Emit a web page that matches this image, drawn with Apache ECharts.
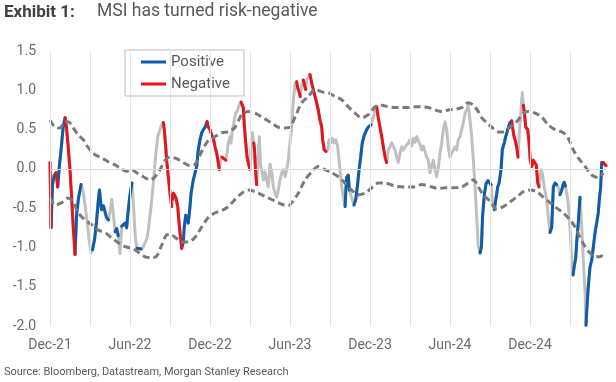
<!DOCTYPE html>
<html><head><meta charset="utf-8">
<script src="https://cdn.jsdelivr.net/npm/echarts@6/dist/echarts.min.js"></script>
<style>html,body{margin:0;padding:0;background:#fff}#c{width:616px;height:382px}</style>
</head><body><div id="c"></div>
<script>
// x in months since Dec-21
const msiMonths = [
0.00,0.08,0.19,0.30,0.45,0.58,0.71,0.83,0.98,1.13,
1.24,1.35,1.50,1.61,1.73,1.88,1.99,2.14,2.33,2.48,
2.63,2.78,2.93,3.08,3.19,3.34,3.49,3.64,3.71,3.86,
4.01,4.24,4.39,4.50,4.63,4.75,4.88,5.00,5.12,5.25,
5.38,5.51,5.63,5.75,5.87,6.00,6.15,6.26,6.41,6.53,
6.68,6.83,7.00,7.13,7.28,7.39,7.58,7.75,7.88,8.08,
8.25,8.38,8.50,8.57,8.68,8.75,8.87,9.00,9.13,9.19,
9.26,9.43,9.58,9.68,9.75,9.88,10.00,10.07,10.18,10.28,
10.37,10.50,10.58,10.75,10.88,11.00,11.12,11.25,11.38,11.50,
11.63,11.78,11.87,12.00,12.13,12.25,12.38,12.50,12.62,12.70,
12.79,12.90,13.01,13.18,13.28,13.37,13.50,13.58,13.67,13.82,
13.93,14.08,14.18,14.33,14.50,14.57,14.68,14.78,14.87,15.00,
15.08,15.17,15.28,15.34,15.41,15.50,15.64,15.70,15.79,15.90,
16.01,16.13,16.25,16.37,16.50,16.63,16.75,16.88,17.00,17.12,
17.25,17.38,17.50,17.63,17.75,17.87,18.00,18.13,18.25,18.38,
18.50,18.58,18.70,18.77,18.88,19.00,19.07,19.18,19.25,19.39,
19.50,19.63,19.75,19.88,20.00,20.12,20.25,20.38,20.45,20.57,
20.70,20.83,20.93,21.05,21.17,21.30,21.43,21.55,21.68,21.75,
21.88,22.00,22.13,22.24,22.37,22.46,22.61,22.80,22.93,23.08,
23.18,23.30,23.42,23.57,23.75,23.87,24.08,24.25,24.38,24.50,
24.62,24.75,24.88,25.00,25.13,25.25,25.37,25.50,25.63,25.75,
25.88,26.00,26.12,26.25,26.38,26.50,26.63,26.75,26.87,27.00,
27.13,27.25,27.38,27.50,27.62,27.75,27.88,28.00,28.13,28.25,
28.37,28.50,28.63,28.75,28.88,29.00,29.12,29.25,29.38,29.50,
29.63,29.75,29.87,30.00,30.13,30.25,30.38,30.50,30.62,30.75,
30.88,31.00,31.13,31.25,31.37,31.50,31.63,31.75,31.88,32.00,
32.12,32.25,32.36,32.44,32.51,32.59,32.70,32.85,33.00,33.08,
33.17,33.32,33.43,33.58,33.68,33.83,33.92,34.07,34.18,34.33,
34.50,34.63,34.69,34.78,34.88,35.00,35.10,35.23,35.33,35.42,
35.50,35.57,35.68,35.83,35.93,36.02,36.13,36.25,36.38,36.47,
36.58,36.68,36.83,36.92,37.07,37.25,37.37,37.50,37.63,37.75,
37.88,38.00,38.12,38.25,38.38,38.48,38.57,38.66,38.83,38.93,
39.02,39.13,39.23,39.30,39.43,39.50,39.62,39.75,39.88,40.00,
40.13,40.20,40.26,40.37,40.50,40.63,40.75,40.88,41.00,41.12,
41.20,41.30,41.38,41.50,41.59,41.70
];
const msiValues = [
0.08,-0.75,-0.20,-0.09,-0.05,-0.23,0.05,0.24,0.52,0.65,
0.52,0.31,-0.01,-0.33,-0.71,-1.09,-0.59,-0.37,-0.20,-0.29,
-0.46,-0.67,-0.90,-1.07,-1.03,-0.90,-0.67,-0.37,-0.27,-0.52,
-0.47,-0.62,-0.65,-0.55,-0.39,-0.57,-0.80,-0.76,-0.85,-1.08,
-0.73,-0.74,-0.69,-0.75,-0.52,-0.33,-0.18,-0.46,-0.90,-1.01,
-0.99,-1.02,-0.99,-0.97,-0.88,-0.75,-0.48,-0.18,0.09,0.41,
0.50,0.56,0.59,0.50,0.28,0.11,-0.10,-0.31,-0.48,-0.39,
-0.31,-0.36,-0.48,-0.69,-0.81,-1.01,-0.93,-0.74,-0.59,-0.62,
-0.69,-0.48,-0.31,-0.14,-0.05,0.03,0.24,0.37,0.46,0.50,
0.53,0.60,0.53,0.50,0.43,0.39,0.28,0.20,0.08,-0.01,
0.11,0.15,0.14,0.11,0.20,0.33,0.41,0.33,0.47,0.62,
0.71,0.75,0.81,0.85,0.78,0.56,0.33,0.15,0.08,-0.01,
0.28,0.46,0.33,0.24,-0.01,-0.20,0.24,0.41,0.05,-0.04,
-0.14,-0.04,-0.14,-0.23,0.06,-0.04,-0.23,-0.31,-0.36,-0.27,
-0.14,-0.05,-0.01,-0.10,-0.01,0.11,0.33,0.53,0.88,1.08,
1.11,1.03,0.97,0.92,1.07,1.13,1.08,1.01,1.13,1.17,
1.20,1.09,1.01,0.92,0.84,0.75,0.62,0.53,0.37,0.24,
0.22,0.24,0.37,0.33,0.39,0.33,0.37,0.31,0.11,-0.01,
-0.23,-0.36,-0.48,-0.11,-0.08,-0.27,-0.36,-0.46,-0.39,-0.18,
-0.01,0.15,0.33,0.43,0.50,0.53,0.56,0.66,0.75,0.79,
0.65,0.53,0.41,0.28,0.15,0.08,0.24,0.28,0.33,0.34,
0.24,0.15,0.08,0.20,0.28,0.24,0.28,0.27,0.33,0.37,
0.29,0.39,0.34,0.41,0.36,0.31,0.24,0.29,0.27,0.15,
0.11,-0.05,0.04,0.11,-0.01,-0.10,0.01,0.20,0.33,0.50,
0.60,0.50,0.28,0.15,0.20,0.24,0.28,0.24,0.37,0.41,
0.50,0.59,0.71,0.75,0.81,0.62,0.41,0.11,-0.23,-0.61,
-0.99,-1.07,-0.99,-0.61,-0.46,-0.31,-0.19,-0.15,-0.13,-0.20,
-0.39,-0.52,-0.50,-0.23,-0.18,-0.01,0.24,0.33,0.41,0.50,
0.59,0.61,0.53,0.43,0.37,0.28,0.15,0.53,0.75,0.97,
0.81,0.73,0.53,0.50,0.33,0.11,0.03,0.11,0.11,0.05,
-0.18,-0.23,-0.01,-0.05,-0.23,-0.39,-0.61,-0.81,-0.74,-0.23,
-0.18,-0.20,-0.23,-0.33,-0.27,-0.20,-0.17,-0.22,-0.39,-0.56,
-0.81,-1.16,-1.35,-1.26,-1.13,-0.94,-0.69,-0.36,-0.74,-1.16,
-1.58,-1.99,-1.79,-1.50,-1.25,-1.16,-0.99,-0.81,-0.69,-0.56,
-0.39,-0.23,0.08,0.08,0.06,0.04
];
// regime of the segment ending at each point: P = positive, N = negative, G = neither
const msiRegime = (
'NNPPPNPPPP'+'NNNNNNPPPG'+'GGGGGPPPPP'+'PPPGGGGPPG'+'GPPPPPPGGG'+
'PPGGGGGGGG'+'GGGNNNNNNG'+'NNNNNNPPPP'+'PPPPPPPPPP'+'PPNNNNNNNN'+
'GGNNGGGGGG'+'GGGGNNNNNN'+'GGGNNNGGGG'+'GGGGGGGGGG'+'GGGGGGGGGG'+
'GNNNGGNNGG'+'GNNNNNNNNN'+'NGGGGGGGGG'+'GGGPPPGGPP'+'PPPPPPPGGG'+
'NNNNNNGGGG'+'GGGGGGGGGG'+'GGGGGGGGGG'+'GGGGGGGGGG'+'GGGGGGGGGG'+
'GGGGGGGGGG'+'GGPPPPPPPP'+'GGPPPPPPPP'+'PPNNNNNGGG'+'GNNNNNNNNN'+
'NNGGGGGGPP'+'PPGGPPPPGG'+'GGGPPPPPGG'+'GGPPPPPPPP'+'PPPPNN').split('');

const upperMonths = [0.00,0.38,0.75,1.13,1.37,1.75,2.12,2.50,2.87,3.38,3.88,4.37,4.88,5.25,5.75,6.13,6.50,7.00,7.50,7.88,8.25,8.63,9.00,9.50,10.00,10.50,10.88,11.38,11.87,12.38,12.88,13.37,13.88,14.38,14.87,15.38,15.88,16.37,16.75,17.12,17.63,18.00,18.38,18.88,19.37,19.88,20.38,20.87,21.38,21.88,22.37,22.88,23.38,23.87,24.38,24.88,25.37,25.88,26.38,26.87,27.38,27.88,28.37,28.88,29.38,29.87,30.38,30.88,31.37,31.75,32.12,32.38,32.75,33.13,33.62,34.00,34.50,35.00,35.50,35.87,36.38,36.88,37.37,37.88,38.50,38.87,39.25,39.62,40.13,40.63,41.12,41.50];
const upperValues = [0.62,0.53,0.52,0.60,0.60,0.52,0.43,0.37,0.27,0.18,0.14,0.09,0.05,0.01,-0.03,-0.01,-0.05,-0.10,-0.14,-0.10,-0.01,0.11,0.15,0.13,0.08,0.04,0.06,0.22,0.36,0.41,0.46,0.47,0.53,0.69,0.73,0.71,0.66,0.61,0.57,0.53,0.52,0.53,0.66,0.84,0.92,1.01,0.98,0.97,0.92,0.88,0.79,0.71,0.65,0.69,0.79,0.81,0.79,0.78,0.78,0.78,0.79,0.79,0.78,0.75,0.73,0.75,0.76,0.78,0.84,0.81,0.73,0.65,0.59,0.53,0.47,0.47,0.53,0.60,0.71,0.73,0.71,0.66,0.56,0.50,0.46,0.39,0.24,0.14,0.03,-0.08,-0.11,-0.05];
const lowerMonths = [0.00,0.38,0.88,1.37,1.75,2.12,2.63,3.13,3.62,4.13,4.63,5.12,5.63,6.13,6.62,7.13,7.63,8.00,8.38,8.70,9.00,9.38,9.88,10.37,10.88,11.38,11.87,12.38,12.88,13.37,13.88,14.38,14.87,15.38,15.88,16.37,16.88,17.38,17.87,18.13,18.62,19.13,19.63,20.12,20.63,21.13,21.62,22.13,22.63,23.12,23.63,24.13,24.62,25.13,25.88,26.63,27.38,27.88,28.63,29.12,29.63,30.13,30.88,31.37,31.75,32.12,32.50,33.00,33.50,34.00,34.50,35.00,35.50,36.00,36.50,37.00,37.50,38.00,38.50,39.00,39.38,39.75,40.13,40.50,40.88,41.25,41.57];
const lowerValues = [-0.37,-0.46,-0.43,-0.37,-0.43,-0.56,-0.65,-0.71,-0.78,-0.81,-0.88,-0.94,-0.99,-1.01,-1.06,-1.12,-1.13,-1.11,-0.97,-0.85,-0.83,-0.87,-0.93,-0.93,-0.87,-0.74,-0.62,-0.56,-0.53,-0.48,-0.39,-0.31,-0.27,-0.29,-0.33,-0.37,-0.41,-0.45,-0.47,-0.43,-0.31,-0.14,-0.04,0.03,-0.01,-0.05,-0.10,-0.18,-0.27,-0.33,-0.31,-0.24,-0.18,-0.18,-0.22,-0.23,-0.23,-0.20,-0.23,-0.25,-0.24,-0.24,-0.23,-0.18,-0.14,-0.23,-0.33,-0.41,-0.51,-0.48,-0.42,-0.36,-0.29,-0.27,-0.29,-0.36,-0.43,-0.50,-0.56,-0.65,-0.74,-0.87,-0.99,-1.07,-1.12,-1.12,-1.06];

const tickLabels = ['Dec-21','Jun-22','Dec-22','Jun-23','Dec-23','Jun-24','Dec-24'];
const gridMonths = [0,3,6,9,12,15,18,21,24,27,30,33,36,39];

const pairs = (xs, ys) => xs.map((x, i) => [x, ys[i]]);
function regimeData(code) {
  const out = [];
  for (let i = 1; i < msiMonths.length; i++) {
    if (msiRegime[i] !== code) continue;
    if (i === 1 || msiRegime[i - 1] !== code) {
      if (out.length) out.push([msiMonths[i - 1], '-']);
      out.push([msiMonths[i - 1], msiValues[i - 1]]);
    }
    out.push([msiMonths[i], msiValues[i]]);
  }
  return out;
}

const chart = echarts.init(document.getElementById('c'), null, {renderer: 'canvas'});
const FONT = 'Roboto, "Noto Sans", sans-serif';
chart.setOption({
  animation: false,
  backgroundColor: '#ffffff',
  textStyle: {fontFamily: FONT},
  grid: {left: 50, right: 10, top: 51, bottom: 56, containLabel: false},
  graphic: [
    {type: 'text', left: 4, top: 4, style: {text: 'Exhibit 1:', font: 'bold 17px ' + FONT, fill: '#404040'}},
    {type: 'text', left: 97, top: 3, style: {text: 'MSI has turned risk-negative', font: '17.5px ' + FONT, fill: '#595959'}},
    {type: 'text', left: 4, top: 367, style: {text: 'Source: Bloomberg, Datastream, Morgan Stanley Research', font: '11px ' + FONT, fill: '#595959'}}
  ],
  legend: {
    data: ['Positive', 'Negative'],
    orient: 'vertical',
    left: 125, top: 50,
    padding: [3, 14, 3, 16],
    itemGap: 4,
    itemWidth: 25, itemHeight: 3,
    icon: 'rect',
    borderColor: '#bfbfbf', borderWidth: 1,
    textStyle: {fontSize: 15, color: '#595959', lineHeight: 18, fontFamily: FONT}
  },
  xAxis: {
    type: 'value', min: 0, max: 41.7, interval: 3,
    axisLine: {show: false}, axisTick: {show: false}, splitLine: {show: false},
    axisLabel: {
      color: '#6b6b6b', fontSize: 14, margin: 12, showMaxLabel: false,
      formatter: v => (v % 6 === 0 && tickLabels[v / 6]) ? tickLabels[v / 6] : ''
    }
  },
  yAxis: {
    type: 'value', min: -2, max: 1.5, interval: 0.5,
    axisLine: {show: false}, axisTick: {show: false}, splitLine: {show: false},
    axisLabel: {color: '#6b6b6b', fontSize: 14, margin: 14, formatter: v => v.toFixed(1)}
  },
  series: [
    {
      name: 'grid', type: 'line', data: [[0, 0]], symbol: 'none', silent: true, z: 1,
      lineStyle: {opacity: 0},
      markLine: {
        silent: true, symbol: ['none', 'none'], label: {show: false}, animation: false,
        lineStyle: {color: '#e6e6e6', width: 1, type: 'solid'},
        data: gridMonths.map(m => ({xAxis: m})).concat([{yAxis: 0, lineStyle: {color: '#d9d9d9', width: 1, type: 'solid'}}])
      }
    },
    {
      name: 'MSI', type: 'line', data: pairs(msiMonths, msiValues), symbol: 'none', z: 2,
      lineStyle: {color: '#c0c0c0', width: 3, join: 'round', cap: 'round'}, itemStyle: {color: '#c0c0c0'}
    },
    {
      name: 'Positive', type: 'line', data: regimeData('P'), symbol: 'none', z: 3, connectNulls: false,
      color: '#0f5ca8',
      lineStyle: {color: '#0f5ca8', width: 3, join: 'round', cap: 'round'}, itemStyle: {color: '#0f5ca8'}
    },
    {
      name: 'Negative', type: 'line', data: regimeData('N'), symbol: 'none', z: 3, connectNulls: false,
      color: '#e8141c',
      lineStyle: {color: '#e8141c', width: 3, join: 'round', cap: 'round'}, itemStyle: {color: '#e8141c'}
    },
    {
      name: 'Upper', type: 'line', data: pairs(upperMonths, upperValues), symbol: 'none', z: 4, smooth: 0.3,
      lineStyle: {color: '#7a7a7a', width: 3, type: [7, 4]}
    },
    {
      name: 'Lower', type: 'line', data: pairs(lowerMonths, lowerValues), symbol: 'none', z: 4, smooth: 0.3,
      lineStyle: {color: '#7a7a7a', width: 3, type: [7, 4]}
    }
  ]
});
</script>
</body></html>
